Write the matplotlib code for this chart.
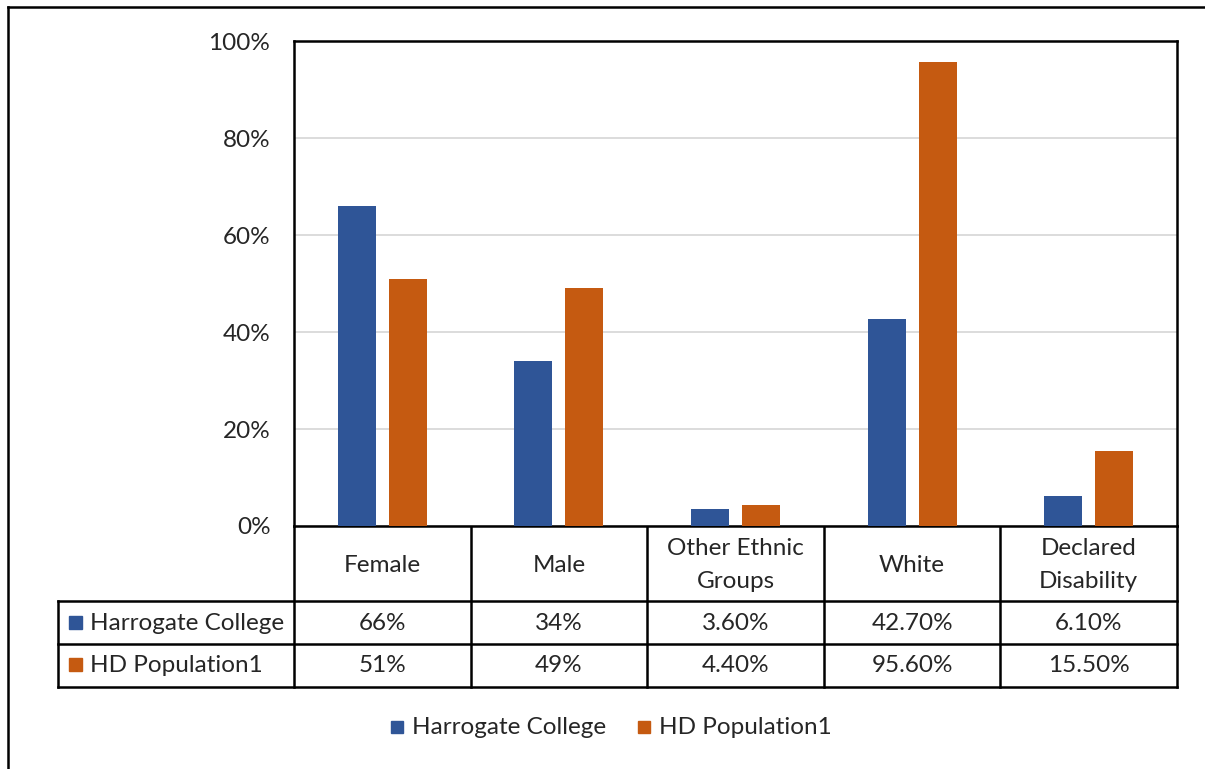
import matplotlib
matplotlib.use("Agg")
import matplotlib.pyplot as plt
from matplotlib.patches import Rectangle
import numpy as np

categories = ["Female", "Male", "Other Ethnic\nGroups", "White", "Declared\nDisability"]
series_names = ["Harrogate College", "HD Population1"]
harrogate = [66, 34, 3.6, 42.7, 6.1]
hd_pop = [51, 49, 4.4, 95.6, 15.5]
harrogate_labels = ["66%", "34%", "3.60%", "42.70%", "6.10%"]
hd_labels = ["51%", "49%", "4.40%", "95.60%", "15.50%"]
yticks = [0, 20, 40, 60, 80, 100]

colors = ["#2F5597", "#C55A11"]
txt = "#262626"
plt.rcParams['font.family'] = ['Lato', 'DejaVu Sans']
FS = 17.5

W, H = 1205, 769
fig = plt.figure(figsize=(W/100, H/100), dpi=100)

# pixel-coordinate overlay
ov = fig.add_axes([0, 0, 1, 1])
ov.set_xlim(0, W); ov.set_ylim(H, 0); ov.axis("off")

L, R, T, B = 294, 1177, 41, 526
ax = fig.add_axes([L/W, 1-B/H, (R-L)/W, (B-T)/H])
x = np.arange(len(categories))
bw = 0.215
off = 0.144
ax.bar(x - off, harrogate, bw, color=colors[0], zorder=3)
ax.bar(x + off, hd_pop, bw, color=colors[1], zorder=3)
ax.set_xlim(-0.5, len(categories) - 0.5)
ax.set_ylim(0, 100)
ax.set_yticks(yticks)
ax.set_yticklabels([f"{v}%" for v in yticks], fontsize=FS, color=txt)
ax.tick_params(axis="y", length=0, pad=17)
ax.set_xticks([])
ax.grid(axis="y", color="#D9D9D9", lw=1.3, zorder=0)
for s in ax.spines.values():
    s.set_color("black"); s.set_linewidth(1.8)

lw = 1.8
# outer chart frame (left & top)
ov.plot([8, 8], [7, H], color="black", lw=lw, solid_capstyle="projecting")
ov.plot([8, W], [7, 7], color="black", lw=lw, solid_capstyle="projecting")

# data table
colw = (R - L) / len(categories)
TL = 58
ov.plot([TL, R], [601, 601], color="black", lw=lw)
ov.plot([TL, R], [644, 644], color="black", lw=lw)
ov.plot([TL, R], [687, 687], color="black", lw=lw)
for i in range(len(categories) + 1):
    xx = L + i * colw
    ov.plot([xx, xx], [526, 687], color="black", lw=lw)
ov.plot([TL, TL], [601, 687], color="black", lw=lw)

for i, c in enumerate(categories):
    cx = L + (i + 0.5) * colw
    ov.text(cx, 565, c, ha="center", va="center", fontsize=FS, color=txt, linespacing=1.7)
    ov.text(cx, 623, harrogate_labels[i], ha="center", va="center", fontsize=FS, color=txt)
    ov.text(cx, 665, hd_labels[i], ha="center", va="center", fontsize=FS, color=txt)

for j, (name, yc) in enumerate(zip(series_names, [623, 665])):
    ov.add_patch(Rectangle((69, yc - 7), 13, 13, color=colors[j]))
    ov.text(90, yc, name, ha="left", va="center", fontsize=FS, color=txt)

# legend
for j, (name, lx) in enumerate(zip(series_names, [391, 638])):
    ov.add_patch(Rectangle((lx, 721), 12, 12, color=colors[j]))
    ov.text(lx + 21, 727, name, ha="left", va="center", fontsize=FS, color=txt)

fig.savefig("out.png", dpi=100)
